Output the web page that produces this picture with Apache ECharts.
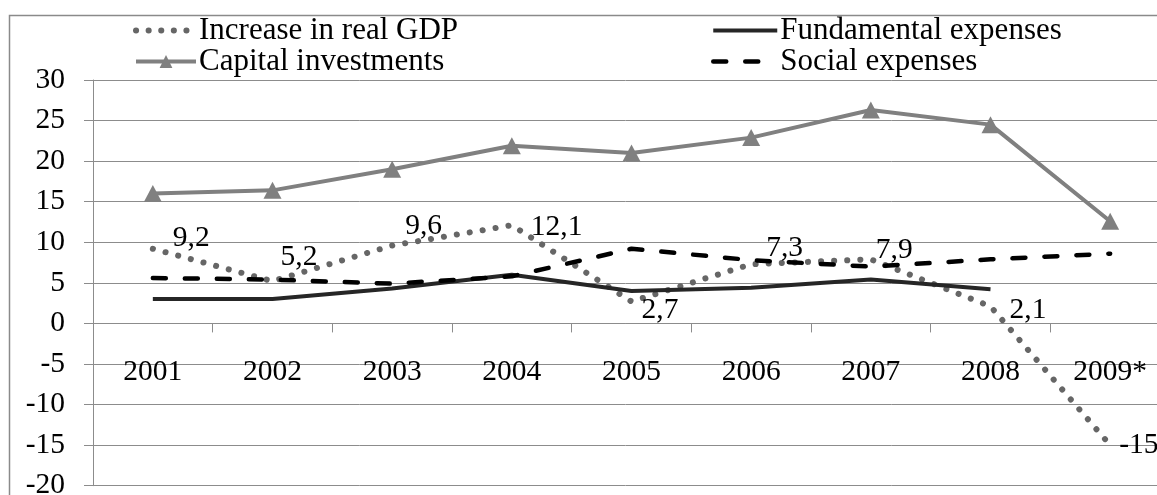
<!DOCTYPE html>
<html>
<head>
<meta charset="utf-8">
<script src="https://cdn.jsdelivr.net/npm/echarts@6/dist/echarts.min.js"></script>
<style>
  html, body { margin: 0; padding: 0; background: #fff; }
  #chart { width: 1157px; height: 495px; }
</style>
</head>
<body>
<div id="chart"></div>
<script>
// Years on the category axis
const years = ['2001', '2002', '2003', '2004', '2005', '2006', '2007', '2008', '2009*'];

// Series values, %
const gdpGrowth = [9.2, 5.2, 9.6, 12.1, 2.7, 7.3, 7.9, 2.1, -15];
const capitalInvestments = [16, 16.4, 19, 21.9, 21, 22.9, 26.3, 24.5, 12.6];
const fundamentalExpenses = [3.0, 3.0, 4.3, 6.0, 4.0, 4.4, 5.4, 4.2, null];
const socialExpenses = [5.6, 5.4, 4.9, 5.8, 9.2, 7.8, 7.0, 7.9, 8.6];

// Value axis range
const yMin = -20, yMax = 30, yStep = 5;

// Nudges for the GDP value labels so they sit clear of the lines
const gdpLabelOffsets = [[14, -11], [2, -24], [7, -19], [13, 2], [4, 9], [9, -16], [-1, -9], [13, 4], [3, 0]];

const FONT = '"Liberation Serif", "Times New Roman", serif';
const GRID_GRAY = '#8c8c8c';
const CLEAR = 'rgba(0,0,0,0)';

// Line looks, shared by the series and their legend entries
const gdpLine = { color: '#666666', width: 6, type: [0.1, 13], cap: 'round' };
const capitalLine = { color: '#808080', width: 4 };
const fundamentalLine = { color: '#262626', width: 4 };
const socialLine = { color: '#000', width: 4.5, type: [13, 19], cap: 'round' };

const fmt = v => String(v).replace('.', ',');

const legendText = () => ({
  fontFamily: FONT, fontSize: 31, color: '#000', lineHeight: 29, padding: [0, 0, 0, -2]
});

const chart = echarts.init(document.getElementById('chart'), null, { renderer: 'canvas' });

chart.setOption({
  animation: false,
  backgroundColor: '#fff',
  textStyle: { fontFamily: FONT },
  graphic: [{
    type: 'rect',
    shape: { x: 9.5, y: 15.5, width: 1300, height: 600 },
    style: { fill: 'none', stroke: '#8a8a8a', lineWidth: 1.5 },
    silent: true
  }],
  legend: [
    {
      orient: 'vertical',
      left: 128, top: 10,
      itemWidth: 60, itemHeight: 16, itemGap: 0,
      data: [
        { name: 'Increase in real GDP', lineStyle: Object.assign({}, gdpLine, { type: [0.1, 12.5] }) },
        { name: 'Capital investments', lineStyle: capitalLine }
      ],
      textStyle: legendText()
    },
    {
      orient: 'vertical',
      left: 706, top: 10,
      itemWidth: 64, itemHeight: 16, itemGap: 0,
      data: [
        { name: 'Fundamental expenses', lineStyle: fundamentalLine },
        { name: 'Social expenses', lineStyle: socialLine }
      ],
      textStyle: legendText()
    }
  ],
  grid: { left: 93, top: 80, width: 1077, height: 405.7, outerBoundsMode: 'none', containLabel: false },
  xAxis: {
    type: 'category',
    data: years,
    boundaryGap: true,
    axisLine: { onZero: true, lineStyle: { color: GRID_GRAY, width: 1 } },
    axisTick: { show: true, alignWithLabel: false, length: 9, lineStyle: { color: GRID_GRAY } },
    axisLabel: { margin: -128, fontFamily: FONT, fontSize: 29.5, color: '#000' },
    splitLine: { show: false }
  },
  yAxis: {
    type: 'value',
    min: yMin, max: yMax, interval: yStep,
    axisLine: { show: true, lineStyle: { color: GRID_GRAY, width: 1 } },
    axisTick: { show: true, length: 9, lineStyle: { color: GRID_GRAY } },
    axisLabel: { margin: 28, fontFamily: FONT, fontSize: 29.5, color: '#000' },
    splitLine: { show: true, lineStyle: { color: GRID_GRAY, width: 1 } }
  },
  series: [
    {
      name: 'Increase in real GDP',
      type: 'line',
      data: gdpGrowth,
      symbol: 'circle',
      symbolSize: 2,
      showSymbol: true,
      lineStyle: gdpLine,
      itemStyle: { color: CLEAR },
      label: {
        show: true, position: 'right', distance: 5,
        fontFamily: FONT, fontSize: 29.5, color: '#000',
        formatter: p => fmt(p.value)
      },
      labelLayout: p => ({
        dx: gdpLabelOffsets[p.dataIndex][0],
        dy: gdpLabelOffsets[p.dataIndex][1],
        hideOverlap: false
      }),
      z: 3
    },
    {
      name: 'Fundamental expenses',
      type: 'line',
      data: fundamentalExpenses,
      symbol: 'none',
      lineStyle: fundamentalLine,
      itemStyle: { color: CLEAR },
      z: 4
    },
    {
      name: 'Capital investments',
      type: 'line',
      data: capitalInvestments,
      symbol: 'triangle',
      symbolSize: [18, 17],
      lineStyle: capitalLine,
      itemStyle: { color: '#808080' },
      z: 2
    },
    {
      name: 'Social expenses',
      type: 'line',
      data: socialExpenses,
      symbol: 'none',
      lineStyle: socialLine,
      itemStyle: { color: CLEAR },
      z: 5
    }
  ]
});
</script>
</body>
</html>
